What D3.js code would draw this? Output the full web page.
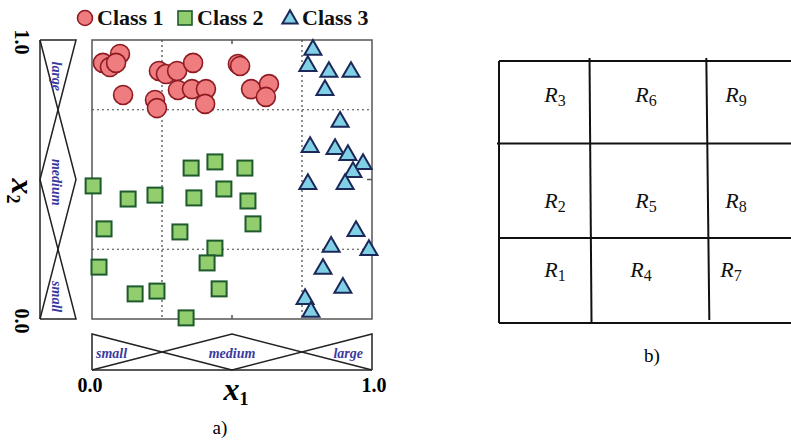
<!DOCTYPE html>
<html>
<head>
<meta charset="utf-8">
<script src="https://cdn.jsdelivr.net/npm/d3@7"></script>
<style>
  body { margin: 0; background: #fff; }
  text { font-family: "Liberation Serif", "Times New Roman", serif; }
</style>
</head>
<body>
<script>
/*
 fuzzy grid partition: a) scatter with membership functions, b) region table
*/
var width = 791,
    height = 445;

// class 1 (circles)
var class1X = [0.100, 0.039, 0.064, 0.086, 0.111, 0.225, 0.232, 0.239, 0.264, 0.304,
               0.361, 0.307, 0.357, 0.407, 0.404, 0.521, 0.529, 0.568, 0.632, 0.621];
var class1Y = [0.950, 0.918, 0.903, 0.918, 0.803, 0.785, 0.756, 0.889, 0.878, 0.889,
               0.918, 0.821, 0.824, 0.824, 0.771, 0.914, 0.907, 0.824, 0.842, 0.796];
// class 2 (squares)
var class2X = [0.004, 0.129, 0.225, 0.354, 0.439, 0.364, 0.471, 0.546, 0.557, 0.043,
               0.314, 0.575, 0.439, 0.411, 0.025, 0.154, 0.232, 0.454, 0.336];
var class2Y = [0.477, 0.430, 0.444, 0.541, 0.563, 0.434, 0.466, 0.541, 0.423, 0.323,
               0.312, 0.341, 0.254, 0.201, 0.186, 0.090, 0.100, 0.108, 0.004];
// class 3 (triangles)
var class3X = [0.789, 0.771, 0.846, 0.925, 0.832, 0.886, 0.779, 0.868, 0.914, 0.968,
               0.932, 0.771, 0.904, 0.943, 0.854, 0.989, 0.825, 0.896, 0.761, 0.782];
var class3Y = [0.968, 0.910, 0.889, 0.889, 0.824, 0.710, 0.620, 0.613, 0.591, 0.559,
               0.530, 0.487, 0.487, 0.319, 0.262, 0.251, 0.183, 0.115, 0.075, 0.029];

var classNames = ["Class 1", "Class 2", "Class 3"];
var gridLines = [0.25, 0.75];
var tickValues = [0.5];
var tickLabels = ["0.0", "1.0"];

// triangular fuzzy sets: [value, membership] breakpoints
var setNames = ["small", "medium", "large"];
var setSmall = [[0, 0], [0, 1], [0.5, 0]];
var setMedium = [[0, 0], [0.5, 1], [1, 0]];
var setLarge = [[0.5, 0], [1, 1], [1, 0]];
var setBase = [[0, 0], [1, 0]];

// b) region table
var colBounds = [0, 0.31, 0.71];
var rowBounds = [0, 0.315, 0.676, 1];
var regionRows = [["3", "6", "9"], ["2", "5", "8"], ["1", "4", "7"]];

var svg = d3.select("body").append("svg")
    .attr("width", width)
    .attr("height", height);

var x = d3.scaleLinear().domain([0, 1]).range([92, 372]);
var y = d3.scaleLinear().domain([0, 1]).range([319, 40]);

var c1 = class1X.map(function(v, i) { return [v, class1Y[i]]; });
var c2 = class2X.map(function(v, i) { return [v, class2Y[i]]; });
var c3 = class3X.map(function(v, i) { return [v, class3Y[i]]; });

var col1 = {fill: "#ef7d80", stroke: "#8e1b22"},
    col2 = {fill: "#92cd6e", stroke: "#1d5a2c"},
    col3 = {fill: "#80d0e6", stroke: "#1b2858"};

// frame
var plot = svg.append("g");
plot.append("rect")
    .attr("x", x(0)).attr("y", y(1))
    .attr("width", x(1) - x(0)).attr("height", y(0) - y(1))
    .attr("fill", "none").attr("stroke", "#555").attr("stroke-width", 1.5);

// dotted grid
plot.selectAll(".vg").data(gridLines).enter().append("line")
    .attr("x1", d => x(d)).attr("x2", d => x(d))
    .attr("y1", y(1)).attr("y2", y(0))
    .attr("stroke", "#444").attr("stroke-width", 1.2).attr("stroke-dasharray", "2,3");
plot.selectAll(".hg").data(gridLines).enter().append("line")
    .attr("y1", d => y(d)).attr("y2", d => y(d))
    .attr("x1", x(0)).attr("x2", x(1))
    .attr("stroke", "#444").attr("stroke-width", 1.2).attr("stroke-dasharray", "2,3");

// small inward ticks
tickValues.forEach(function(t) {
  plot.append("line").attr("x1", x(t)).attr("x2", x(t)).attr("y1", y(1)).attr("y2", y(1) + 4)
      .attr("stroke", "#555").attr("stroke-width", 1.5);
  plot.append("line").attr("x1", x(t)).attr("x2", x(t)).attr("y1", y(0)).attr("y2", y(0) - 4)
      .attr("stroke", "#555").attr("stroke-width", 1.5);
  plot.append("line").attr("x1", x(1)).attr("x2", x(1) - 5).attr("y1", y(t)).attr("y2", y(t))
      .attr("stroke", "#555").attr("stroke-width", 1.5);
});

// points
plot.append("g").selectAll("circle").data(c1).enter().append("circle")
    .attr("cx", d => x(d[0])).attr("cy", d => y(d[1])).attr("r", 9.5)
    .attr("fill", col1.fill).attr("stroke", col1.stroke).attr("stroke-width", 1.6);

plot.append("g").selectAll("rect").data(c2).enter().append("rect")
    .attr("x", d => x(d[0]) - 7.5).attr("y", d => y(d[1]) - 7.5)
    .attr("width", 15).attr("height", 15)
    .attr("fill", col2.fill).attr("stroke", col2.stroke).attr("stroke-width", 2);

var tri = d3.symbol().type(d3.symbolTriangle).size(125);
plot.append("g").selectAll("path").data(c3).enter().append("path")
    .attr("transform", d => "translate(" + x(d[0]) + "," + (y(d[1]) + 1) + ")")
    .attr("d", tri)
    .attr("fill", col3.fill).attr("stroke", col3.stroke).attr("stroke-width", 2)
    .attr("stroke-linejoin", "miter");

// legend
var legend = svg.append("g");
var legX = [85, 185, 290];
legend.append("circle").attr("cx", legX[0]).attr("cy", 18).attr("r", 7.5)
    .attr("fill", col1.fill).attr("stroke", col1.stroke).attr("stroke-width", 1.6);
legend.append("rect").attr("x", legX[1] - 7).attr("y", 11).attr("width", 14).attr("height", 14)
    .attr("fill", col2.fill).attr("stroke", col2.stroke).attr("stroke-width", 1.6);
legend.append("path").attr("transform", "translate(" + legX[2] + ",19)")
    .attr("d", d3.symbol().type(d3.symbolTriangle).size(100))
    .attr("fill", col3.fill).attr("stroke", col3.stroke).attr("stroke-width", 2);
legend.selectAll("text").data(classNames).enter().append("text")
    .attr("x", (d, i) => legX[i] + 12).attr("y", 25)
    .attr("font-size", 22).attr("font-weight", "bold").attr("fill", "#111")
    .text(d => d);

// membership functions along x1 (bottom)
var mb = d3.scaleLinear().domain([0, 1]).range([370, 334]);
var lineB = d3.line().x(d => x(d[0])).y(d => mb(d[1]));
var sets = [setSmall, setMedium, setLarge, setBase];
svg.append("g").selectAll("path").data(sets).enter().append("path")
    .attr("d", lineB).attr("fill", "none").attr("stroke", "#222").attr("stroke-width", 1.5);

// membership functions along x2 (left)
var ml = d3.scaleLinear().domain([0, 1]).range([40, 76]);
var lineL = d3.line().x(d => ml(d[1])).y(d => y(d[0]));
svg.append("g").selectAll("path").data(sets).enter().append("path")
    .attr("d", lineL).attr("fill", "none").attr("stroke", "#222").attr("stroke-width", 1.5);

var setLabelPos = [0.07, 0.5, 0.915];
svg.append("g").selectAll("text").data(setNames).enter().append("text")
    .attr("x", (d, i) => x(setLabelPos[i])).attr("y", 358)
    .attr("text-anchor", "middle")
    .attr("font-size", 14).attr("font-weight", "bold").attr("font-style", "italic")
    .attr("fill", "#3a3a9e")
    .text(d => d);

var setLabelPosL = [0.08, 0.49, 0.87];
svg.append("g").selectAll("text").data(setNames).enter().append("text")
    .attr("transform", (d, i) => "translate(52," + y(setLabelPosL[i]) + ") rotate(90)")
    .attr("text-anchor", "middle")
    .attr("font-size", 14).attr("font-weight", "bold").attr("font-style", "italic")
    .attr("fill", "#3a3a9e")
    .text(d => d);

// axis labels
svg.append("text").attr("x", 90).attr("y", 392).attr("text-anchor", "middle")
    .attr("font-size", 20).attr("font-weight", "bold").text(tickLabels[0]);
svg.append("text").attr("x", 374).attr("y", 392).attr("text-anchor", "middle")
    .attr("font-size", 20).attr("font-weight", "bold").text(tickLabels[1]);
svg.append("text").attr("transform", "translate(15,42) rotate(90)").attr("text-anchor", "middle")
    .attr("font-size", 20).attr("font-weight", "bold").text(tickLabels[1]);
svg.append("text").attr("transform", "translate(15,321) rotate(90)").attr("text-anchor", "middle")
    .attr("font-size", 20).attr("font-weight", "bold").text(tickLabels[0]);

var xl = svg.append("text").attr("x", 236).attr("y", 400).attr("text-anchor", "middle")
    .attr("font-weight", "bold").attr("font-style", "italic");
xl.append("tspan").attr("font-size", 32).text("x");
xl.append("tspan").attr("font-size", 18).attr("font-style", "normal").attr("dy", 5).text("1");

var yl = svg.append("text").attr("transform", "translate(12,191) rotate(90)").attr("text-anchor", "middle")
    .attr("font-weight", "bold").attr("font-style", "italic");
yl.append("tspan").attr("font-size", 32).text("x");
yl.append("tspan").attr("font-size", 18).attr("font-style", "normal").attr("dy", 5).text("2");

svg.append("text").attr("x", 220).attr("y", 434).attr("text-anchor", "middle")
    .attr("font-size", 19).text("a)");

// b) region table
var bx = d3.scaleLinear().domain([0, 1]).range([499, 791]);
var by = d3.scaleLinear().domain([0, 1]).range([61, 323]);
var tb = svg.append("g").attr("stroke", "#111").attr("stroke-width", 2);

tb.selectAll(".h").data(rowBounds).enter().append("line")
    .attr("x1", (d, i) => i == 1 ? bx(0) - 2 : bx(0)).attr("x2", bx(1))
    .attr("y1", d => by(d)).attr("y2", d => by(d));
tb.append("line").attr("x1", bx(0)).attr("x2", bx(0)).attr("y1", by(0)).attr("y2", by(1));
tb.selectAll(".v").data(colBounds.slice(1)).enter().append("line")
    .attr("x1", d => bx(d)).attr("x2", (d, i) => bx(d) + 2 + i)
    .attr("y1", by(0) - 3).attr("y2", (d, i) => by(1) - i * 3);

var labelX = [555, 646, 736];
var labelY = [102, 208, 277];
regionRows.forEach(function(row, r) {
  row.forEach(function(s, c) {
    var t = svg.append("text")
        .attr("x", labelX[c] - (r == 2 && c > 0 ? 5 : 0)).attr("y", labelY[r])
        .attr("text-anchor", "middle").attr("fill", "#111");
    t.append("tspan").attr("font-size", 22).attr("font-style", "italic").text("R");
    t.append("tspan").attr("font-size", 16).attr("dy", 4).text(s);
  });
});

svg.append("text").attr("x", 652).attr("y", 362).attr("text-anchor", "middle")
    .attr("font-size", 19).text("b)");
</script>
</body>
</html>
